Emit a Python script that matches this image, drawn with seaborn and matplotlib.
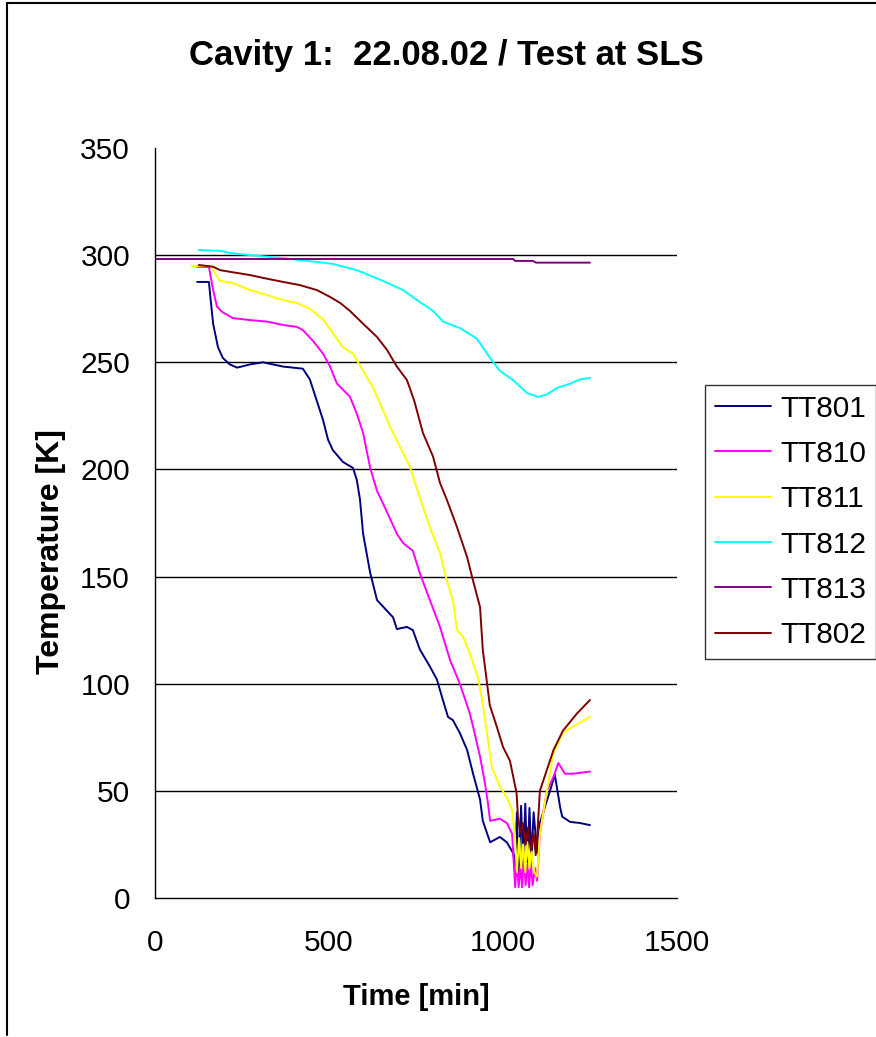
import matplotlib
matplotlib.use("Agg")
import matplotlib.pyplot as plt
from matplotlib.lines import Line2D
import seaborn as sns
import pandas as pd

# ---------------- data (time [min], temperature [K]) ----------------
t801 = [121, 155, 160, 167, 181, 195, 215, 236, 273, 310, 368, 425, 445, 465, 483,
        497, 511, 540, 569, 580, 589, 598, 618, 638, 684, 695, 724, 741, 761, 790,
        810, 828, 842, 856, 876, 897, 914, 934, 942, 963, 991, 1011, 1029, 1035, 1040,
        1045, 1052, 1058, 1064, 1070, 1076, 1082, 1088, 1098, 1106, 1135, 1149, 1164,
        1170, 1193, 1221, 1250]
T801 = [287.5, 287.5, 279, 268, 257, 252, 249, 247.5, 249, 250, 248, 247, 242, 232, 223,
        214, 209, 203.5, 200.7, 195, 186, 170, 152, 139, 131, 125.5, 126.5, 125, 116, 108,
        102, 92, 84.5, 83, 77, 69, 58, 46, 36, 26, 28.5, 26, 21, 15, 40,
        12, 43, 15, 44, 14, 42, 18, 40, 21, 35, 50, 57.5, 42.5,
        38, 35.5, 35, 34]

t810 = [121, 155, 167, 178, 193, 224, 273, 322, 368, 408, 425, 454, 483, 503, 523,
        560, 580, 598, 618, 638, 667, 695, 713, 741, 761, 790, 819, 848, 876, 905,
        914, 934, 948, 957, 963, 991, 1011, 1026, 1029, 1035, 1040, 1045, 1050, 1055, 1060,
        1065, 1070, 1075, 1080, 1085, 1092, 1098, 1106, 1126, 1145, 1159, 1178, 1201, 1250]
T810 = [294.5, 294.5, 283.7, 276, 273.5, 270.6, 269.7, 269, 267.4, 266.5, 265, 260, 254, 248, 240,
        234, 226, 217, 201, 190, 180, 170, 165.6, 162, 151.6, 139, 126.5, 111, 100, 86,
        80, 66, 53.7, 44, 36, 37, 35, 30, 22, 5, 18, 5, 15, 5, 20,
        6, 16, 5, 17, 6, 14, 8, 30, 50, 56.5, 63, 58, 58, 59]

t811 = [105, 160, 172, 187, 224, 273, 322, 368, 408, 445, 483, 511, 540, 569, 598,
        626, 655, 675, 704, 733, 761, 790, 819, 839, 856, 868, 885, 905, 928, 940,
        954, 968, 991, 1011, 1026, 1034, 1040, 1046, 1052, 1058, 1064, 1070, 1076, 1082, 1090,
        1098, 1106, 1126, 1145, 1172, 1201, 1250]
T811 = [295, 295, 291.6, 288, 287, 283.7, 281.4, 279, 277.7, 275, 270, 263.7, 257, 254, 246,
        238.5, 227.7, 220, 210.5, 201, 187, 173, 161, 148, 139, 125, 122, 114, 103, 92.4,
        77, 61, 52, 47, 41, 30, 12, 28, 14, 25, 12, 26, 14, 22, 12,
        10, 30, 50, 67.6, 77, 80, 84.5]

t812 = [126, 187, 215, 273, 368, 465, 511, 580, 655, 713, 753, 799, 828, 876, 925,
        942, 963, 991, 1029, 1069, 1101, 1126, 1155, 1193, 1221, 1250]
T812 = [302.4, 302, 301, 300, 298.6, 296.8, 295.9, 293, 288, 283.7, 279, 274, 269, 266, 261,
        257, 252, 246, 241.7, 235.7, 233.8, 235, 238, 240, 242, 242.7]

t813 = [0, 1029, 1035, 1086, 1095, 1250]
T813 = [298.2, 298.2, 297.3, 297.3, 296.5, 296.5]

t802 = [126, 167, 187, 224, 273, 322, 368, 417, 465, 503, 532, 560, 598, 638, 667,
        695, 724, 745, 770, 799, 819, 839, 868, 897, 914, 934, 942, 952, 962, 982,
        1000, 1020, 1039, 1043, 1050, 1057, 1065, 1072, 1080, 1088, 1094, 1098, 1106, 1145, 1172,
        1212, 1250]
T802 = [295.4, 294.6, 293, 292, 290.7, 289, 287.5, 286, 283.7, 280.5, 277.7, 274, 268, 261.8, 255.7,
        248, 241.7, 232, 217, 206, 193.7, 185.7, 173, 159, 148, 135.8, 115.7, 103, 90, 80,
        70.5, 64, 49, 38, 30, 35, 25, 33, 22, 30, 20, 28, 50, 69, 78,
        86, 92.4]

sensors = ["TT801", "TT810", "TT811", "TT812", "TT813", "TT802"]
series_t = [t801, t810, t811, t812, t813, t802]
series_T = [T801, T810, T811, T812, T813, T802]
colors = ["#000080", "#FF00FF", "#FFFF00", "#00FFFF", "#800080", "#800000"]

title = "Cavity 1:  22.08.02 / Test at SLS"
xlabel = "Time [min]"
ylabel = "Temperature [K]"
xticks = [0, 500, 1000, 1500]
yticks = [0, 50, 100, 150, 200, 250, 300, 350]

# ---------------- build long table ----------------
frames = []
for name, tt, TT in zip(sensors, series_t, series_T):
    frames.append(pd.DataFrame({"t": tt, "T": TT, "sensor": name}))
df = pd.concat(frames, ignore_index=True)

sns.set_theme(style="white")
plt.rcParams["font.family"] = ["Liberation Sans", "DejaVu Sans"]
plt.rcParams["text.color"] = "black"
plt.rcParams["axes.labelcolor"] = "black"
plt.rcParams["xtick.color"] = "black"
plt.rcParams["ytick.color"] = "black"

W, H = 876, 1037
fig = plt.figure(figsize=(W / 100, H / 100), dpi=100)
fig.patch.set_facecolor("white")
ax = fig.add_axes([155 / W, 1 - 898 / H, (677 - 155) / W, (898 - 148) / H])

sns.lineplot(data=df, x="t", y="T", hue="sensor", hue_order=sensors,
             palette=dict(zip(sensors, colors)), sort=False, estimator=None,
             units="sensor", linewidth=1.4, ax=ax)

ax.set_xlim(0, 1500)
ax.set_ylim(0, 350)
ax.set_xticks(xticks)
ax.set_yticks(yticks)
ax.set_xticklabels([str(v) for v in xticks], fontsize=21.5, color="black")
ax.set_yticklabels([str(v) for v in yticks], fontsize=21.5, color="black")
ax.tick_params(axis="both", direction="out", length=8, width=1, color="black")
ax.tick_params(axis="x", pad=14)
ax.tick_params(axis="y", pad=10)

ax.yaxis.grid(True, color="black", linewidth=1.0)
ax.xaxis.grid(False)
ax.set_axisbelow(True)
for gl, v in zip(ax.get_ygridlines(), yticks):
    if v in (0, 350):
        gl.set_visible(False)

for s in ["top", "right"]:
    ax.spines[s].set_visible(False)
for s in ["left", "bottom"]:
    ax.spines[s].set_color("black")
    ax.spines[s].set_linewidth(1.0)

ax.set_xlabel(xlabel, fontsize=21, fontweight="bold", color="black")
ax.xaxis.set_label_coords(0.5, (898 - 983) / 750, transform=ax.transAxes)
ax.xaxis.label.set_va("top")
ax.set_ylabel(ylabel, fontsize=23, fontweight="bold", color="black")
ax.yaxis.set_label_coords((66 - 155) / 522, (898 - 552) / 750)
fig.text(446 / W, 1 - 56 / H, title, fontsize=25, fontweight="bold",
         ha="center", va="center", color="black")

handles, labels = ax.get_legend_handles_labels()
ax.get_legend().remove()
leg = fig.legend(handles, labels, loc="upper left",
                 bbox_to_anchor=(705 / W, 1 - 385 / H), fontsize=21.5,
                 frameon=True, fancybox=False, edgecolor="black",
                 handlelength=1.9, handletextpad=0.3, labelspacing=0.58,
                 borderpad=0.32, borderaxespad=0.0)
leg.get_frame().set_linewidth(1.0)
for lh in leg.get_lines():
    lh.set_linewidth(1.4)
for txt in leg.get_texts():
    txt.set_color("black")

# chart-area border (top and left edges visible in the original)
fig.add_artist(Line2D([7 / W, 1.0], [1 - 3 / H, 1 - 3 / H], transform=fig.transFigure,
                      color="black", linewidth=1.5))
fig.add_artist(Line2D([7 / W, 7 / W], [1 - 3 / H, 1 - 1035 / H], transform=fig.transFigure,
                      color="black", linewidth=1.5))

fig.savefig("out.png", dpi=100, facecolor="white")
